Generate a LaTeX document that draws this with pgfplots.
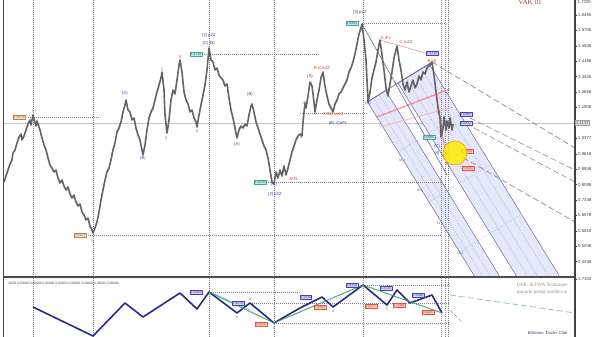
\documentclass[border=0pt]{standalone}
\usepackage{pgfplots}
\pgfplotsset{compat=1.18}
\usepackage{fontspec}
\setmainfont{Liberation Sans}
\newfontfamily\serifx{Liberation Serif}
\definecolor{navy}{RGB}{40,40,140}
\definecolor{zzgreen}{RGB}{60,150,100}
\definecolor{pricegray}{RGB}{100,100,100}
\definecolor{bandfill}{RGB}{226,228,250}
\definecolor{banddraw}{RGB}{105,105,150}
\definecolor{redlab}{RGB}{200,70,60}
\definecolor{bluelab}{RGB}{60,60,170}
\definecolor{tealfill}{RGB}{185,232,232}
\definecolor{tealdraw}{RGB}{80,160,160}
\definecolor{tealtext}{RGB}{40,100,110}
\definecolor{bluefill}{RGB}{205,208,242}
\definecolor{bluedraw}{RGB}{70,70,170}
\definecolor{redfill}{RGB}{250,200,188}
\definecolor{reddraw}{RGB}{220,90,70}
\definecolor{brownfill}{RGB}{245,228,205}
\definecolor{browndraw}{RGB}{190,130,80}
\definecolor{gridc}{RGB}{130,130,150}
\tikzset{
 lb/.style={font=\fontsize{4.2}{4.5}\selectfont, inner sep=0.3pt, text=bluelab},
 lr/.style={font=\fontsize{4.2}{4.5}\selectfont, inner sep=0.3pt, text=redlab},
 lbr/.style={font=\fontsize{4.2}{4.5}\selectfont, inner sep=0.3pt, text=browndraw},
 bteal/.style={draw=tealdraw, fill=tealfill, text=tealtext, font=\fontsize{3.3}{3.5}\selectfont, inner sep=0.7pt, line width=0.3pt},
 bblue/.style={draw=bluedraw, fill=bluefill, text=bluedraw, font=\fontsize{3.3}{3.5}\selectfont, inner sep=0.7pt, line width=0.3pt},
 bred/.style={draw=reddraw, fill=redfill, text=redlab, font=\fontsize{3.3}{3.5}\selectfont, inner sep=0.7pt, line width=0.3pt},
 bbrown/.style={draw=browndraw, fill=brownfill, text=browndraw!80!black, font=\fontsize{3.3}{3.5}\selectfont, inner sep=0.7pt, line width=0.3pt},
 gdot/.style={gridc, line width=0.45pt, dash pattern=on 0.9pt off 1.1pt},
}
\begin{document}
\begin{tikzpicture}
\path[use as bounding box] (0,0) rectangle (600pt,337pt);
% ================= main panel =================
\begin{axis}[at={(3pt,60pt)}, anchor=south west, scale only axis,
  width=572pt, height=277pt, xmin=3, xmax=575, ymin=0.3543, ymax=1.7196,
  axis line style={draw=none}, xtick=\empty,
  ytick={0.4298,0.5058,0.5818,0.6578,0.7338,0.8098,0.8858,0.9618,1.0378,1.1898,1.2658,1.3418,1.4178,1.4938,1.5698,1.6458},
  yticklabels={0.4298,0.5058,0.5818,0.6578,0.7338,0.8098,0.8858,0.9618,1.0377,1.1906,1.2666,1.3426,1.4186,1.4946,1.5706,1.6465},
  ytick pos=right, tick align=outside, major tick length=2pt,
  tick style={draw=black!80, line width=0.4pt},
  yticklabel style={font=\fontsize{4.3}{5}\selectfont, text=black!75, inner sep=1pt},
]
% current price line
\draw[black!22, line width=0.8pt] (axis cs:3,1.1133) -- (axis cs:575,1.1133);
\coordinate (cp) at (axis cs:575,1.1133);
% pitchfork bands
\addplot[fill=bandfill, draw=banddraw, line width=0.5pt, fill opacity=0.9] coordinates {(367.6,1.2168) (385.7,1.2735) (500,0.3543) (475,0.3543)} -- cycle;
\addplot[fill=bandfill, draw=banddraw, line width=0.5pt, fill opacity=0.9] coordinates {(398,1.3105) (429.3,1.4027) (560,0.3543) (517,0.3543)} -- cycle;
\addplot[banddraw!60, line width=0.35pt, dash pattern=on 1.2pt off 1.2pt] coordinates {(373.3,1.2361) (483,0.3543)};
\addplot[banddraw!60, line width=0.35pt, dash pattern=on 1.2pt off 1.2pt] coordinates {(379.1,1.2533) (491,0.3543)};
\addplot[banddraw!60, line width=0.35pt, dash pattern=on 1.2pt off 1.2pt] coordinates {(406.0,1.3352) (528,0.3543)};
\addplot[banddraw!60, line width=0.35pt, dash pattern=on 1.2pt off 1.2pt] coordinates {(413.3,1.3573) (538,0.3543)};
\addplot[banddraw!60, line width=0.35pt, dash pattern=on 1.2pt off 1.2pt] coordinates {(421.3,1.3815) (549,0.3543)};
\addplot[banddraw!50, line width=0.35pt, dash pattern=on 1.2pt off 1.2pt] coordinates {(398.3,0.9704) (459.9,1.1562)};
\addplot[banddraw!50, line width=0.35pt, dash pattern=on 1.2pt off 1.2pt] coordinates {(428.9,0.7239) (490.6,0.9098)};
\addplot[banddraw!50, line width=0.35pt, dash pattern=on 1.2pt off 1.2pt] coordinates {(459.6,0.4775) (521.3,0.6634)};
% dashed projection lines
\addplot[black!45, line width=0.7pt, dash pattern=on 6pt off 3pt] coordinates {(432,1.4140) (575,0.9901)};
\addplot[black!40, line width=0.7pt, dash pattern=on 6pt off 3pt] coordinates {(470,1.1380) (575,0.8817)};
\addplot[black!40, line width=0.7pt, dash pattern=on 6pt off 3pt] coordinates {(474,1.0887) (575,0.8225)};
\addplot[black!45, line width=0.7pt, dash pattern=on 6pt off 3pt] coordinates {(455,0.9655) (575,0.6254)};
% grid dotted lines
\pgfplotsinvokeforeach{33,93,209,274,363,441,445,448}{\draw[gdot] (axis cs:#1,0.3543) -- (axis cs:#1,1.7196);}
\draw[gdot] (axis cs:28,1.1429) -- (axis cs:100,1.1429);
\draw[gdot] (axis cs:88,0.5613) -- (axis cs:441,0.5613);
\draw[gdot] (axis cs:204,1.4534) -- (axis cs:320,1.4534);
\draw[gdot] (axis cs:268,0.8225) -- (axis cs:441,0.8225);
\draw[gdot] (axis cs:300,1.1626) -- (axis cs:368,1.1626);
\draw[gdot] (axis cs:362,1.6062) -- (axis cs:446,1.6062);
% pink lines
\addplot[red!55!white, line width=1.3pt, opacity=0.75] coordinates {(377,1.1429) (450,1.2809)};
\addplot[red!35!white, line width=0.9pt, opacity=0.75] coordinates {(380,1.0936) (453,1.1922)};
\addplot[redlab!70, line width=0.4pt] coordinates {(380,1.5224) (432,1.4485)};
% trendlines
\addplot[banddraw, line width=0.7pt] coordinates {(367,1.2168) (432,1.4140)};
\addplot[black!60!blue!60, line width=0.6pt] coordinates {(362,1.6013) (447,0.8570)};
% yellow target
\addplot[only marks, mark=*, mark size=12pt, mark options={fill=yellow!95!orange, draw=orange!80!yellow, line width=0.6pt, fill opacity=0.85}] coordinates {(455,0.9655)};
% price
\addplot[pricegray, line width=1.6pt, line join=round] coordinates {
(4,0.8225)(6,0.8521)(8,0.8817)(10,0.9112)(12,0.9310)(13,0.9655)(15,0.9802)(17,1.0148)(19,1.0443)(21,1.0591)
(22,1.0295)(24,1.0493)(26,1.0788)(28,1.1084)(30,1.1281)(31,1.1035)(33,1.1528)(34,1.1330)(36,1.0985)(37,1.1232)
(38,1.1084)(40,1.0788)(42,1.0394)(44,1.0049)(46,0.9802)(48,0.9408)(50,0.9063)(52,0.8915)(54,0.8718)(56,0.8817)
(58,0.8422)(60,0.8176)(62,0.8324)(64,0.8028)(66,0.7831)(68,0.7979)(70,0.7634)(72,0.7437)(74,0.7584)(76,0.7239)
(78,0.7042)(80,0.7141)(82,0.6747)(84,0.6599)(86,0.6352)(88,0.6451)(90,0.6056)(92,0.5859)(93,0.5711)(95,0.5958)
(97,0.6254)(99,0.6747)(101,0.7338)(103,0.7831)(105,0.8324)(107,0.8718)(109,0.8915)(111,0.9310)(113,0.9802)(115,1.0148)
(117,1.0690)(119,1.0887)(121,1.1183)(123,1.1676)(125,1.2021)(126,1.2267)(128,1.1774)(130,1.1676)(132,1.1281)(134,1.1380)
(136,1.0887)(138,1.0542)(140,1.0295)(142,0.9802)(143,0.9556)(145,1.0049)(147,1.0788)(149,1.1380)(151,1.1676)(153,1.1873)
(155,1.2267)(157,1.2661)(159,1.3006)(161,1.3351)(162,1.3647)(164,1.2760)(165,1.1528)(167,1.0640)(169,1.1281)(171,1.2267)
(173,1.2760)(175,1.2563)(177,1.3253)(179,1.3992)(180,1.4239)(182,1.3647)(184,1.2661)(186,1.2267)(188,1.2070)(190,1.1676)
(192,1.1774)(194,1.1380)(196,1.1183)(197,1.0936)(199,1.1528)(201,1.2021)(203,1.2513)(205,1.3006)(207,1.3746)(209,1.4830)
(211,1.4239)(213,1.4140)(215,1.3746)(217,1.3844)(219,1.3499)(221,1.3351)(223,1.3253)(225,1.2957)(227,1.3056)(229,1.2366)
(231,1.1774)(233,1.1380)(235,1.0887)(237,1.0394)(239,1.0788)(241,1.0985)(243,1.0887)(245,1.1084)(247,1.0985)(249,1.1528)
(251,1.1971)(252,1.2070)(254,1.1676)(256,1.1183)(258,1.0887)(260,1.0591)(262,1.0295)(264,1.0000)(266,0.9802)(268,0.9408)
(270,0.8817)(272,0.8225)(274,0.8127)(276,0.8718)(278,0.8422)(280,0.8817)(282,0.8521)(284,0.9014)(286,0.8570)(288,0.8915)
(290,0.9310)(292,0.9704)(294,1.0000)(296,1.0295)(298,1.0493)(300,1.0591)(302,1.0493)(303,1.1183)(305,1.2119)(306,1.1873)
(308,1.2464)(310,1.3154)(312,1.2957)(314,1.2168)(315,1.1676)(317,1.2267)(319,1.2760)(321,1.3351)(323,1.3647)(325,1.2957)
(327,1.2464)(329,1.2070)(331,1.1873)(333,1.1676)(335,1.2070)(337,1.2267)(339,1.2563)(341,1.2661)(343,1.2858)(345,1.3056)
(347,1.3253)(349,1.3647)(351,1.3844)(353,1.4140)(355,1.4534)(357,1.5027)(359,1.5520)(361,1.5816)(362,1.6013)(364,1.5224)
(366,1.4239)(367,1.3253)(368,1.2168)(370,1.2661)(372,1.3351)(374,1.3746)(376,1.4140)(378,1.4731)(380,1.5224)(382,1.4485)
(384,1.3746)(386,1.2858)(388,1.2464)(390,1.3056)(392,1.3647)(394,1.4337)(396,1.4731)(397,1.4929)(399,1.4239)(401,1.3746)
(403,1.3056)(405,1.2760)(407,1.3154)(409,1.2661)(411,1.2957)(413,1.3253)(415,1.2858)(417,1.3056)(419,1.3450)(421,1.3253)
(423,1.3647)(425,1.3549)(427,1.3844)(429,1.3943)(431,1.4041)(432,1.4140)(434,1.3499)(436,1.2661)(438,1.1873)(440,1.1380)
(441,1.0443)(443,1.0887)(444,1.1429)(446,1.0788)(447,1.1232)(449,1.0887)(450,1.1380)(452,1.0788)(453,1.1084)};
\addplot[redlab, line width=0.45pt] coordinates {(436,1.2760) (447,0.9063)};
% labels
\node[bbrown] at (axis cs:19,1.1429) {1.0879};
\node[lbr] at (axis cs:34,1.1725) {III};
\node[bbrown] at (axis cs:80,0.5613) {0.6329};
\node[lbr] at (axis cs:93,0.5317) {IV};
\node[lb] at (axis cs:125,1.2612) {(A)};
\node[lb] at (axis cs:143,0.9408) {(B)};
\node[lr] at (axis cs:162,1.3795) {1};
\node[lr] at (axis cs:166,1.0394) {2};
\node[lr] at (axis cs:180,1.4387) {3};
\node[lr] at (axis cs:197,1.0739) {4};
\node[lb] at (axis cs:237,1.0098) {(A)};
\node[lb] at (axis cs:250,1.2563) {(B)};
\node[lb] at (axis cs:209,1.5471) {[1] pZZ};
\node[lb] at (axis cs:209,1.5077) {(C) ED};
\node[bteal] at (axis cs:196,1.4534) {1.4719};
\node[bteal] at (axis cs:260,0.8225) {1.0279};
\node[lb] at (axis cs:274,0.8127) {(C)};
\node[lb] at (axis cs:275,0.7634) {[2] pZZ};
\node[lr] at (axis cs:294,0.8373) {BrFL};
\node[lr] at (axis cs:301,1.0443) {4};
\node[lr] at (axis cs:304,1.2119) {3};
\node[lb] at (axis cs:310,1.3450) {(A)};
\node[lr] at (axis cs:311,1.3056) {5};
\node[lr] at (axis cs:315,1.1577) {A};
\node[lr] at (axis cs:333,1.1577) {C DM ext 3};
\node[lr] at (axis cs:322,1.3844) {B rCeZZ};
\node[lb] at (axis cs:338,1.1133) {(B) rCeFL};
\node[lb] at (axis cs:360,1.6605) {[3] pZZ};
\node[bteal] at (axis cs:352,1.6062) {1.6354};
\node[lr] at (axis cs:386,1.5323) {A rFL};
\node[lr] at (axis cs:406,1.5126) {C rcZZ};
\node[bblue] at (axis cs:432,1.4584) {1.4170};
\node[lr] at (axis cs:432,1.4189) {B [4]};
\node[lb] at (axis cs:368,1.2119) {(A)};
\node[bblue] at (axis cs:466,1.1577) {1.0663};
\node[bblue] at (axis cs:466,1.1133) {1.0442};
\node[bteal] at (axis cs:429,1.0443) {1.0095};
\node[lb] at (axis cs:437,1.0000) {(C)};
\node[lb] at (axis cs:437,0.9655) {[4]};
\node[bred] at (axis cs:467,0.9753) {0.9634};
\node[bred] at (axis cs:468,0.8915) {0.8908};
\node[font=\fontsize{3.2}{3.5}\selectfont, text=banddraw] at (axis cs:402,0.9300) {38.2};
\node[font=\fontsize{3.2}{3.5}\selectfont, text=banddraw] at (axis cs:420,0.7800) {50.0};
\node[font=\fontsize{3.2}{3.5}\selectfont, text=banddraw] at (axis cs:440,0.6200) {61.8};
\node[font=\fontsize{3.2}{3.5}\selectfont, text=banddraw] at (axis cs:460,0.4700) {76.4};
\node[font=\serifx\fontsize{7}{7}\selectfont, text=redlab!80!black] at (axis cs:530,1.7100) {VAK 01};
\end{axis}
% ================= lower panel =================
\begin{axis}[at={(3pt,0pt)}, anchor=south west, scale only axis,
  width=572pt, height=60pt, xmin=3, xmax=575, ymin=0, ymax=60,
  axis line style={draw=none}, xtick=\empty,
  ytick={58}, yticklabels={1.7100},
  ytick pos=right, tick align=outside, major tick length=2pt,
  tick style={draw=black!80, line width=0.4pt},
  yticklabel style={font=\fontsize{4.3}{5}\selectfont, text=black!75, inner sep=1pt},
]
\pgfplotsinvokeforeach{33,93,209,274,363,441,445,448}{\draw[gdot] (axis cs:#1,0) -- (axis cs:#1,60);}
\draw[gdot] (axis cs:363,52) -- (axis cs:450,52);
\draw[gdot] (axis cs:209,45) -- (axis cs:300,45);
\draw[gdot] (axis cs:250,34) -- (axis cs:450,34);
\draw[gdot] (axis cs:274,14) -- (axis cs:450,14);
\addplot[zzgreen!60, line width=0.7pt, dash pattern=on 6pt off 3pt] coordinates {(450,42) (575,24)};
\addplot[black!40, line width=0.6pt, dash pattern=on 4pt off 2pt] coordinates {(450,27) (463,14)};
\addplot[navy, line width=1.6pt, line join=round] coordinates {
(33,30)(93,1)(125,34)(143,20)(180,44)(197,28)(209,45)(237,24)(250,34)(274,14)
(300,29)(322,40)(333,30)(363,52)(387,32)(397,47)(410,34)(432,42)(442,24)};
\addplot[zzgreen, line width=1pt, opacity=0.85] coordinates {(209,45) (274,14) (363,52) (442,24)};
\addplot[zzgreen!60!cyan, line width=0.6pt, opacity=0.8] coordinates {(212,44) (250,27)};
\node[font=\fontsize{3.3}{3.5}\selectfont, text=black!70, anchor=west] at (axis cs:5,54) {MZM 0.00000 0.00000 0.00000 0.00000 0.00000 0.00000 0.00000 0.00000};
\node[bblue] at (axis cs:196,45) {1.6354};
\node[bblue] at (axis cs:238,34) {1.4170};
\node[bred] at (axis cs:261,13) {1.0279};
\node[bblue] at (axis cs:306,40) {1.2118};
\node[bred] at (axis cs:320,30) {1.1320};
\node[bblue] at (axis cs:352,52) {1.6354};
\node[bred] at (axis cs:371,31) {1.1577};
\node[bblue] at (axis cs:386,49) {1.4170};
\node[bred] at (axis cs:399,32) {1.2098};
\node[bblue] at (axis cs:418,42) {1.3108};
\node[bred] at (axis cs:428,25) {1.0095};
\node[font=\fontsize{3.3}{3.5}\selectfont, text=black!70] at (axis cs:250,38) {2};
\node[font=\fontsize{3.3}{3.5}\selectfont, text=black!70] at (axis cs:237,20) {1};
\node[font=\fontsize{3.3}{3.5}\selectfont, text=black!70] at (axis cs:274,9) {3};
\node[font=\fontsize{3.3}{3.5}\selectfont, text=black!70] at (axis cs:333,26) {4};
\node[font=\fontsize{3.3}{3.5}\selectfont, text=black!70] at (axis cs:387,28) {5};
\node[font=\serifx\fontsize{5}{5.5}\selectfont, text=black!45, anchor=east] at (axis cs:571,52) {DML \& EWA Technique};
\node[font=\serifx\fontsize{5}{5.5}\selectfont, text=black!45, anchor=east] at (axis cs:571,45) {pumide-post@rambler.ru};
\node[font=\serifx\itshape\fontsize{4.5}{5}\selectfont, text=navy, anchor=east] at (axis cs:571,4) {Bibliotec Trader Club};
\end{axis}
% frame
\draw[black!70, line width=0.9pt] (3pt,0) -- (3pt,337pt);
\draw[black!75, line width=1.1pt] (575pt,0) -- (575pt,337pt);
\draw[black!70, line width=1.3pt] (3pt,60pt) -- (575pt,60pt);
\node[draw=black!35, fill=black!15, text=black!60, font=\fontsize{4.3}{5}\selectfont, inner sep=0.8pt, anchor=west] at (cp) {1.1137};
\node[font=\fontsize{4.3}{5}\selectfont, text=black!75, anchor=north west, inner sep=0.5pt] at (577pt,337pt) {1.7225};
\end{tikzpicture}
\end{document}
